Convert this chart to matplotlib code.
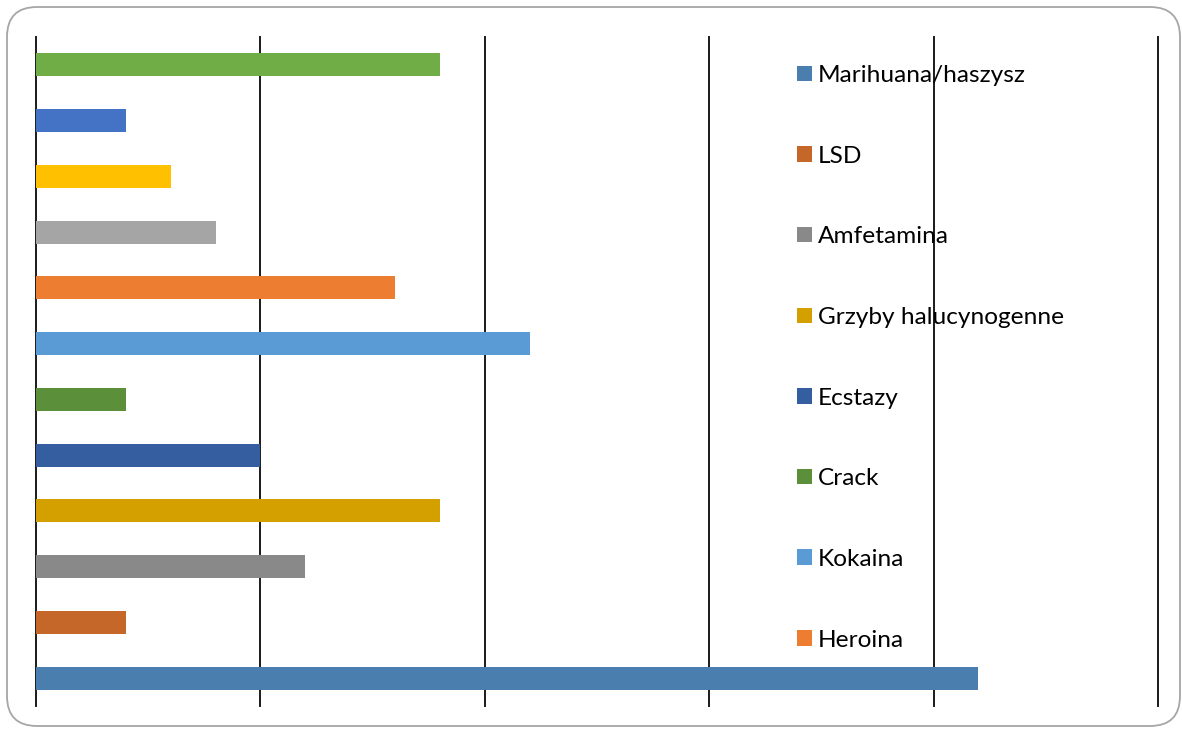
import matplotlib.pyplot as plt
from matplotlib.patches import FancyBboxPatch, Patch

# bottom-to-top order of bars
CATEGORIES = [
    "Marihuana/haszysz", "LSD", "Amfetamina", "Grzyby halucynogenne",
    "Ecstazy", "Crack", "Kokaina", "Heroina",
    "Dopalacze", "Leki", "Sterydy", "Inne",
]
VALUES = [21, 2, 6, 9, 5, 2, 11, 8, 4, 3, 2, 9]
COLOURS = [
    "#4A7EAE", "#C56728", "#898989", "#D3A000",
    "#355EA1", "#5B8F3A", "#5B9BD5", "#ED7D31",
    "#A5A5A5", "#FFC000", "#4472C4", "#70AD47",
]
N_LEGEND = 8  # legend in the original is cut off after eight entries
X_TICKS = [0, 5, 10, 15, 20, 25]

plt.rcParams["font.family"] = ["Lato", "DejaVu Sans"]

fig = plt.figure(figsize=(11.82, 7.29), dpi=100)
ax = fig.add_axes([36 / 1182, 1 - 706 / 729, (1158 - 36) / 1182, (706 - 37) / 729])

ypos = list(range(len(CATEGORIES)))
ax.barh(ypos, VALUES, height=0.41, color=COLOURS, zorder=2)

ax.set_xlim(X_TICKS[0], X_TICKS[-1])
ax.set_ylim(-0.5, len(CATEGORIES) - 0.5)
ax.set_xticks(X_TICKS)
ax.set_yticks([])
ax.tick_params(axis="x", length=0, labelbottom=False)
ax.grid(axis="x", color="#1a1a1a", linewidth=1.4, zorder=3)
for line in ax.get_xgridlines():
    line.set_clip_on(False)
for side in ax.spines.values():
    side.set_visible(False)
ax.set_facecolor("none")

handles = [Patch(facecolor=c, edgecolor="none") for c in COLOURS[:N_LEGEND]]
leg = fig.legend(
    handles,
    CATEGORIES[:N_LEGEND],
    loc="upper left",
    bbox_to_anchor=(797 / 1182, 1 - 65 / 729),
    frameon=False,
    fontsize=17.6,
    handlelength=0.6,
    handleheight=0.6,
    handletextpad=0.26,
    labelspacing=2.44,
    borderaxespad=0,
    borderpad=0,
)
leg.set_zorder(1)

# rounded outer border
border = FancyBboxPatch(
    (0.07, 0.03), 11.73, 7.19,
    boxstyle="round,pad=0,rounding_size=0.3",
    transform=fig.dpi_scale_trans,
    facecolor="none", edgecolor="#A6A6A6", linewidth=1.3,
)
fig.patches.append(border)

fig.savefig("out.png", dpi=100)
